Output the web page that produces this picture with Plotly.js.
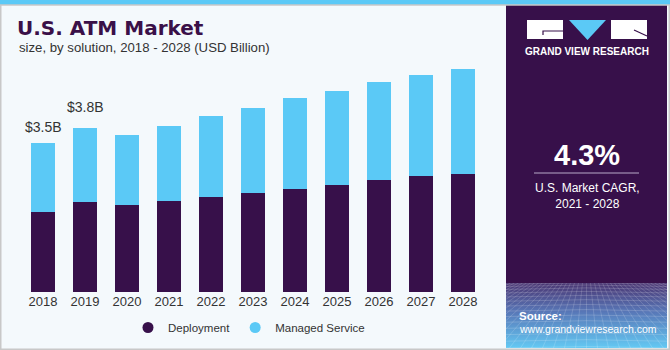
<!DOCTYPE html>
<html><head><meta charset="utf-8">
<script src="https://cdn.plot.ly/plotly-3.0.1.min.js"></script>
<style>html,body{margin:0;padding:0;background:#f4f9fc}#chart{width:670px;height:350px}</style>
</head><body><div id="chart"></div>
<script>
// ---- data ----
const years = ['2018','2019','2020','2021','2022','2023','2024','2025','2026','2027','2028'];
const deployment = [1.88, 2.10, 2.04, 2.13, 2.23, 2.31, 2.42, 2.50, 2.62, 2.73, 2.77];
const managedService = [1.62, 1.74, 1.65, 1.76, 1.89, 2.00, 2.12, 2.21, 2.30, 2.36, 2.46];
const seriesNames = ['Deployment', 'Managed Service'];
const labelledYears = ['2018', '2019'];
const cagrValue = '4.3%';
const cagrLabel = 'U.S. Market CAGR,<br>2021 - 2028';

// ---- style / geometry ----
const PURPLE = '#37104a', BLUE = '#5bc9f6', BG = '#f4f9fc', TXT = '#333333';
const W = 670, H = 350, ML = 22, MR = 186, MT = 36, MB = 58;
const PW = W - ML - MR, PH = H - MT - MB;
const X = px => (px - ML) / PW;
const Y = py => (H - MB - py) / PH;
const FONT = '"Liberation Sans", Arial, sans-serif';

const totals = years.map((_, i) => deployment[i] + managedService[i]);

const traces = [
  {type:'bar', x: years, y: deployment, name: seriesNames[0], marker:{color: PURPLE, line:{width:0}}, showlegend:false, hoverinfo:'skip'},
  {type:'bar', x: years, y: managedService, name: seriesNames[1], marker:{color: BLUE, line:{width:0}}, showlegend:false, hoverinfo:'skip'},
  {type:'scatter', mode:'markers', x:[null], y:[null], name: seriesNames[0], marker:{color: PURPLE, size: 11, symbol:'circle'}, hoverinfo:'skip'},
  {type:'scatter', mode:'markers', x:[null], y:[null], name: seriesNames[1], marker:{color: BLUE, size: 11, symbol:'circle'}, hoverinfo:'skip'}
];

// mesh decoration for lower part of side panel
function meshSvg(w, h) {
  let s = `<svg xmlns='http://www.w3.org/2000/svg' width='${w}' height='${h}' viewBox='0 0 ${w} ${h}'>` +
    `<defs><linearGradient id='g' x1='0' y1='0' x2='0' y2='1'>` +
    `<stop offset='0' stop-color='#4a3572'/><stop offset='0.45' stop-color='#5878b8'/><stop offset='1' stop-color='#64c9f3'/></linearGradient></defs>` +
    `<rect width='${w}' height='${h}' fill='url(#g)'/>`;
  for (let i = 1; i <= 14; i++) {
    const y = h * Math.pow(i / 14, 1.5);
    s += `<path d='M0 ${y.toFixed(1)} Q ${w/2} ${(y - 3).toFixed(1)} ${w} ${y.toFixed(1)}' stroke='white' stroke-opacity='0.22' fill='none' stroke-width='0.8'/>`;
  }
  for (let j = -20; j <= 40; j++) {
    const xt = w / 2 + (j - 10) * 4;
    const xb = w / 2 + (j - 10) * 11;
    s += `<line x1='${xt}' y1='0' x2='${xb}' y2='${h}' stroke='white' stroke-opacity='0.2' stroke-width='0.8'/>`;
  }
  s += `</svg>`;
  return 'data:image/svg+xml;charset=utf-8,' + encodeURIComponent(s);
}

const P = (x0, y0, x1, y1) => ({x0: X(x0), x1: X(x1), y0: Y(y0), y1: Y(y1)});
const shapes = [
  Object.assign({type:'rect', xref:'paper', yref:'paper', layer:'below', fillcolor: BLUE, line:{width:0}}, P(0, 0, 670, 5)),
  Object.assign({type:'rect', xref:'paper', yref:'paper', layer:'below', fillcolor: PURPLE, line:{width:0}}, P(506, 5, 667, 348)),
  // logo
  Object.assign({type:'rect', xref:'paper', yref:'paper', layer:'above', fillcolor:'#ffffff', line:{width:0}}, P(527, 20, 563, 39)),
  Object.assign({type:'rect', xref:'paper', yref:'paper', layer:'above', fillcolor:'#ffffff', line:{width:0}}, P(611, 20, 647, 39)),
  {type:'path', xref:'paper', yref:'paper', layer:'above', fillcolor: BLUE, line:{width:0},
   path:`M ${X(569)} ${Y(20)} L ${X(606)} ${Y(20)} L ${X(587.5)} ${Y(40)} Z`},
  {type:'path', xref:'paper', yref:'paper', layer:'above', line:{color: PURPLE, width:1.2},
   path:`M ${X(563)} ${Y(31)} L ${X(543)} ${Y(31)} L ${X(543)} ${Y(35)}`},
  {type:'path', xref:'paper', yref:'paper', layer:'above', line:{color: PURPLE, width:1.2},
   path:`M ${X(634)} ${Y(30)} L ${X(647)} ${Y(36)}`},
  // divider under CAGR
  {type:'line', xref:'paper', yref:'paper', layer:'above', line:{color:'#b9a9c8', width:1}, x0: X(534), x1: X(639), y0: Y(173), y1: Y(173)},
  // outer border
  {type:'rect', xref:'paper', yref:'paper', layer:'above', line:{color:'#c8c8c8', width:1.5}, fillcolor:'rgba(0,0,0,0)',
   x0: X(0.75), x1: X(669.25), y0: Y(349.25), y1: Y(5)}
];

const annotations = [
  {xref:'paper', yref:'paper', x: X(17), y: Y(47), xanchor:'left', yanchor:'middle', showarrow:false,
   text:'size, by solution, 2018 - 2028 (USD Billion)', font:{family: FONT, size: 13.2, color: TXT}},
  {xref:'paper', yref:'paper', x: X(587), y: Y(51.5), xanchor:'center', yanchor:'middle', showarrow:false,
   text:'<b>GRAND VIEW RESEARCH</b>', font:{family: FONT, size: 10, color:'#ffffff'}},
  {xref:'paper', yref:'paper', x: X(587), y: Y(155), xanchor:'center', yanchor:'middle', showarrow:false,
   text:'<b>' + cagrValue + '</b>', font:{family: FONT, size: 29, color:'#ffffff'}},
  {xref:'paper', yref:'paper', x: X(587), y: Y(196), xanchor:'center', yanchor:'middle', showarrow:false,
   text: cagrLabel, font:{family: FONT, size: 12, color:'#ffffff'}},
  {xref:'paper', yref:'paper', x: X(517), y: Y(316), xanchor:'left', yanchor:'middle', showarrow:false,
   text:'<b>Source:</b>', font:{family: FONT, size: 11.5, color:'#ffffff'}},
  {xref:'paper', yref:'paper', x: X(517), y: Y(329), xanchor:'left', yanchor:'middle', showarrow:false,
   text:'www.grandviewresearch.com', font:{family: FONT, size: 10.5, color:'#ffffff'}}
];
const labelShift = [6, 11];
labelledYears.forEach((yr, k) => {
  const i = years.indexOf(yr);
  annotations.push({x: i, y: totals[i], xref:'x', yref:'y', xanchor:'center', yanchor:'bottom', yshift: labelShift[k], showarrow:false,
    text: '&#36;' + totals[i].toFixed(1) + 'B', font:{family: FONT, size: 14, color: TXT}});
});

const layout = {
  width: W, height: H,
  margin:{l: ML, r: MR, t: MT, b: MB, pad: 0, autoexpand: false},
  paper_bgcolor: BG, plot_bgcolor: BG,
  barmode:'stack', bargap: 0.43,
  font:{family: FONT, color: TXT},
  title:{text:'<b>U.S. ATM Market</b>', xref:'container', yref:'container', x: 17/W, y: 1 - 28/H,
         xanchor:'left', yanchor:'middle', font:{family:'"DejaVu Sans", sans-serif', size: 20, color:'#3a1048'}},
  xaxis:{type:'category', range:[-0.5, 10.5], showgrid:false, zeroline:false, showline:false, ticks:'',
         tickfont:{family: FONT, size: 13, color: TXT}, fixedrange:true, automargin:false},
  yaxis:{range:[0, 6], visible:false, fixedrange:true, automargin:false},
  showlegend: true,
  legend:{orientation:'h', x: X(249), xanchor:'center', y: Y(327.5), yanchor:'middle',
          bgcolor:'rgba(0,0,0,0)', font:{family: FONT, size: 11.5, color: TXT}, itemwidth: 30, traceorder:'normal'},
  shapes: shapes,
  annotations: annotations,
  images:[{source: meshSvg(161, 65), xref:'paper', yref:'paper', x: X(506), y: Y(283), sizex: 161/PW, sizey: 65/PH,
           xanchor:'left', yanchor:'top', sizing:'stretch', layer:'above'}]
};

Plotly.newPlot('chart', traces, layout, {displayModeBar:false, staticPlot:true});
</script>
</body></html>
